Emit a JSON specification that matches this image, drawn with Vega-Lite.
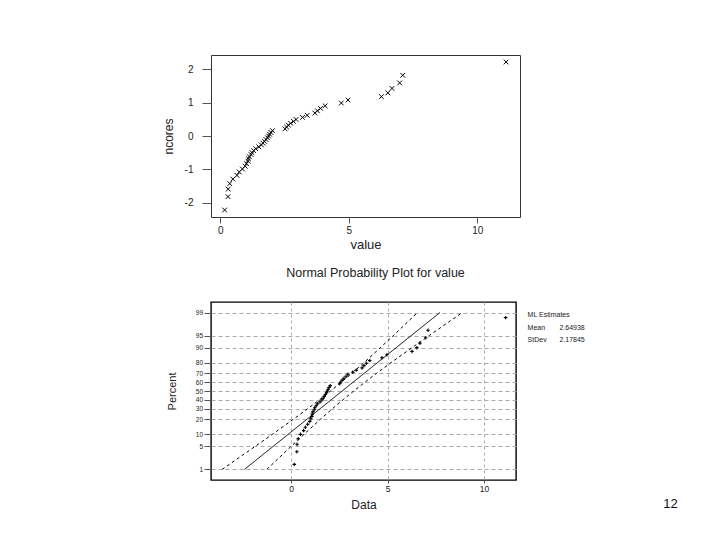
{
  "$schema": "https://vega.github.io/schema/vega-lite/v6.json",
  "padding": {"left": 161, "top": 54, "right": 0, "bottom": 0},
  "autosize": {"type": "pad"},
  "background": "white",
  "config": {
    "font": "Liberation Sans",
    "axis": {"labelColor": "#222", "titleColor": "#222", "domain": false, "tickColor": "#555", "titleFontWeight": "normal", "labelFont": "Liberation Sans", "titleFont": "Liberation Sans", "labelOverlap": false},
    "title": {"font": "Liberation Sans", "fontWeight": "normal", "color": "#222"}
  },
  "datasets": {
    "pts": [
      {"value": 0.17, "nscore": -2.220, "pz": -2.176},
      {"value": 0.30, "nscore": -1.820, "pz": -1.800},
      {"value": 0.31, "nscore": -1.593, "pz": -1.580},
      {"value": 0.37, "nscore": -1.428, "pz": -1.419},
      {"value": 0.49, "nscore": -1.293, "pz": -1.286},
      {"value": 0.65, "nscore": -1.180, "pz": -1.174},
      {"value": 0.74, "nscore": -1.079, "pz": -1.074},
      {"value": 0.86, "nscore": -0.989, "pz": -0.985},
      {"value": 0.97, "nscore": -0.906, "pz": -0.902},
      {"value": 1.02, "nscore": -0.829, "pz": -0.825},
      {"value": 1.08, "nscore": -0.756, "pz": -0.753},
      {"value": 1.10, "nscore": -0.687, "pz": -0.685},
      {"value": 1.13, "nscore": -0.621, "pz": -0.619},
      {"value": 1.20, "nscore": -0.558, "pz": -0.556},
      {"value": 1.23, "nscore": -0.497, "pz": -0.495},
      {"value": 1.30, "nscore": -0.438, "pz": -0.437},
      {"value": 1.38, "nscore": -0.380, "pz": -0.379},
      {"value": 1.50, "nscore": -0.324, "pz": -0.323},
      {"value": 1.60, "nscore": -0.268, "pz": -0.268},
      {"value": 1.66, "nscore": -0.214, "pz": -0.213},
      {"value": 1.72, "nscore": -0.160, "pz": -0.159},
      {"value": 1.78, "nscore": -0.106, "pz": -0.106},
      {"value": 1.84, "nscore": -0.053, "pz": -0.053},
      {"value": 1.88, "nscore": 0.000, "pz": 0.000},
      {"value": 1.92, "nscore": 0.053, "pz": 0.053},
      {"value": 1.97, "nscore": 0.106, "pz": 0.106},
      {"value": 2.03, "nscore": 0.160, "pz": 0.159},
      {"value": 2.52, "nscore": 0.214, "pz": 0.213},
      {"value": 2.58, "nscore": 0.268, "pz": 0.268},
      {"value": 2.65, "nscore": 0.324, "pz": 0.323},
      {"value": 2.74, "nscore": 0.380, "pz": 0.379},
      {"value": 2.85, "nscore": 0.438, "pz": 0.437},
      {"value": 2.95, "nscore": 0.497, "pz": 0.495},
      {"value": 3.20, "nscore": 0.558, "pz": 0.556},
      {"value": 3.38, "nscore": 0.621, "pz": 0.619},
      {"value": 3.68, "nscore": 0.687, "pz": 0.685},
      {"value": 3.78, "nscore": 0.756, "pz": 0.753},
      {"value": 3.90, "nscore": 0.829, "pz": 0.825},
      {"value": 4.08, "nscore": 0.906, "pz": 0.902},
      {"value": 4.71, "nscore": 0.989, "pz": 0.985},
      {"value": 4.97, "nscore": 1.079, "pz": 1.074},
      {"value": 6.27, "nscore": 1.180, "pz": 1.174},
      {"value": 6.52, "nscore": 1.293, "pz": 1.286},
      {"value": 6.68, "nscore": 1.428, "pz": 1.419},
      {"value": 6.98, "nscore": 1.593, "pz": 1.580},
      {"value": 7.10, "nscore": 1.820, "pz": 1.800},
      {"value": 11.12, "nscore": 2.220, "pz": 2.176}
    ],
    "fit": [
      {"line": "fit", "value": -2.417, "pz": -2.3263},
      {"line": "fit", "value": 7.715, "pz": 2.3263},
      {"line": "lo", "value": -3.577, "pz": -2.3263},
      {"line": "lo", "value": -1.864, "pz": -1.6449},
      {"line": "lo", "value": -0.962, "pz": -1.2816},
      {"line": "lo", "value": 0.116, "pz": -0.8416},
      {"line": "lo", "value": 0.867, "pz": -0.5244},
      {"line": "lo", "value": 1.487, "pz": -0.2533},
      {"line": "lo", "value": 2.049, "pz": 0},
      {"line": "lo", "value": 2.591, "pz": 0.2533},
      {"line": "lo", "value": 3.151, "pz": 0.5244},
      {"line": "lo", "value": 3.782, "pz": 0.8416},
      {"line": "lo", "value": 4.620, "pz": 1.2816},
      {"line": "lo", "value": 5.302, "pz": 1.6449},
      {"line": "lo", "value": 6.555, "pz": 2.3263},
      {"line": "hi", "value": -1.257, "pz": -2.3263},
      {"line": "hi", "value": -0.004, "pz": -1.6449},
      {"line": "hi", "value": 0.678, "pz": -1.2816},
      {"line": "hi", "value": 1.516, "pz": -0.8416},
      {"line": "hi", "value": 2.147, "pz": -0.5244},
      {"line": "hi", "value": 2.707, "pz": -0.2533},
      {"line": "hi", "value": 3.249, "pz": 0},
      {"line": "hi", "value": 3.811, "pz": 0.2533},
      {"line": "hi", "value": 4.431, "pz": 0.5244},
      {"line": "hi", "value": 5.182, "pz": 0.8416},
      {"line": "hi", "value": 6.260, "pz": 1.2816},
      {"line": "hi", "value": 7.162, "pz": 1.6449},
      {"line": "hi", "value": 8.875, "pz": 2.3263}
    ]
  },
  "columns": 1,
  "align": "none",
  "spacing": 13,
  "concat": [
    {
      "width": 309,
      "height": 162,
      "view": {"stroke": "#333", "strokeWidth": 1},
      "data": {"name": "pts"},
      "mark": {"type": "point", "shape": "M-1,-1L1,1M-1,1L1,-1", "filled": false, "stroke": "black", "strokeWidth": 1, "size": 22, "opacity": 1},
      "encoding": {
        "x": {"field": "value", "type": "quantitative",
          "scale": {"domain": [-0.36, 11.66], "nice": false, "zero": false},
          "axis": {"values": [0, 5, 10], "title": "value", "grid": false, "tickSize": 6, "labelPadding": 2, "labelFontSize": 10, "titleFontSize": 13, "titlePadding": 3}},
        "y": {"field": "nscore", "type": "quantitative",
          "scale": {"domain": [-2.43, 2.43], "nice": false, "zero": false},
          "axis": {"values": [-2, -1, 0, 1, 2], "title": "ncores", "grid": false, "tickSize": 9, "labelPadding": 9, "labelFontSize": 10, "titleFontSize": 12, "titlePadding": 9, "labelExpr": "replace(datum.label, '\u2212', '-')"}}
      }
    },
    {
      "width": 305,
      "height": 178,
      "view": {"stroke": "black", "strokeWidth": 1.4},
      "title": {"text": "Normal Probability Plot for value", "fontSize": 12.5, "offset": 23, "dx": 12, "anchor": "middle"},
      "layer": [
        {
          "data": {"name": "fit"},
          "mark": {"type": "line", "color": "black", "strokeWidth": 1},
          "encoding": {
            "x": {"field": "value", "type": "quantitative",
              "scale": {"domain": [-4.15, 11.66], "nice": false, "zero": false},
              "axis": {"values": [0, 5, 10], "tickCount": 20, "title": "Data", "grid": true, "gridDash": [3, 3], "gridColor": "#aaa", "tickSize": 3, "labelPadding": 1, "labelFontSize": 8.5, "titleFontSize": 12, "titlePadding": 7, "labelColor": "#222"}},
            "y": {"field": "pz", "type": "quantitative",
              "scale": {"domain": [-2.64, 2.64], "nice": false, "zero": false},
              "axis": {"values": [-2.3263, -1.6449, -1.2816, -0.8416, -0.5244, -0.2533, 0, 0.2533, 0.5244, 0.8416, 1.2816, 1.6449, 2.3263], "tickCount": 20,
                "labelExpr": "format(cumulativeNormal(datum.value) * 100, '.0f')", "labelOverlap": false, "labelColor": "#222",
                "title": "Percent", "grid": true, "gridDash": [4, 3], "gridColor": "#aaa", "tickSize": 7, "labelPadding": 1.5, "labelFontSize": 6.5, "titleFontSize": 11, "titlePadding": 18}},
            "detail": {"field": "line", "type": "nominal"},
            "strokeDash": {"field": "line", "type": "nominal", "scale": {"domain": ["fit", "lo", "hi"], "range": [[1, 0], [3, 3], [3, 3]]}, "legend": null},
            "order": {"field": "pz", "type": "quantitative"}
          }
        },
        {
          "data": {"name": "pts"},
          "mark": {"type": "point", "shape": "M-1,0L1,0M0,-1L0,1", "filled": false, "stroke": "black", "strokeWidth": 1.1, "size": 12, "opacity": 1},
          "encoding": {
            "x": {"field": "value", "type": "quantitative"},
            "y": {"field": "pz", "type": "quantitative"}
          }
        },
        {
          "data": {"values": [{"t": "ML Estimates"}]},
          "mark": {"type": "text", "align": "left", "baseline": "middle", "fontSize": 7, "color": "#222", "clip": false},
          "encoding": {"x": {"datum": 12.26, "type": "quantitative"}, "y": {"datum": 2.255, "type": "quantitative"}, "text": {"field": "t"}}
        },
        {
          "data": {"values": [{"t": "Mean"}]},
          "mark": {"type": "text", "align": "left", "baseline": "middle", "fontSize": 7, "color": "#222", "clip": false},
          "encoding": {"x": {"datum": 12.26, "type": "quantitative"}, "y": {"datum": 1.87, "type": "quantitative"}, "text": {"field": "t"}}
        },
        {
          "data": {"values": [{"t": "2.64938"}]},
          "mark": {"type": "text", "align": "left", "baseline": "middle", "fontSize": 7, "color": "#222", "clip": false},
          "encoding": {"x": {"datum": 13.91, "type": "quantitative"}, "y": {"datum": 1.87, "type": "quantitative"}, "text": {"field": "t"}}
        },
        {
          "data": {"values": [{"t": "StDev"}]},
          "mark": {"type": "text", "align": "left", "baseline": "middle", "fontSize": 7, "color": "#222", "clip": false},
          "encoding": {"x": {"datum": 12.26, "type": "quantitative"}, "y": {"datum": 1.513, "type": "quantitative"}, "text": {"field": "t"}}
        },
        {
          "data": {"values": [{"t": "2.17845"}]},
          "mark": {"type": "text", "align": "left", "baseline": "middle", "fontSize": 7, "color": "#222", "clip": false},
          "encoding": {"x": {"datum": 13.91, "type": "quantitative"}, "y": {"datum": 1.513, "type": "quantitative"}, "text": {"field": "t"}}
        },
        {
          "data": {"values": [{"t": "12"}]},
          "mark": {"type": "text", "align": "center", "baseline": "middle", "fontSize": 13, "color": "#111", "clip": false},
          "encoding": {"x": {"datum": 19.67, "type": "quantitative"}, "y": {"datum": -3.34, "type": "quantitative"}, "text": {"field": "t"}}
        }
      ]
    }
  ]
}
